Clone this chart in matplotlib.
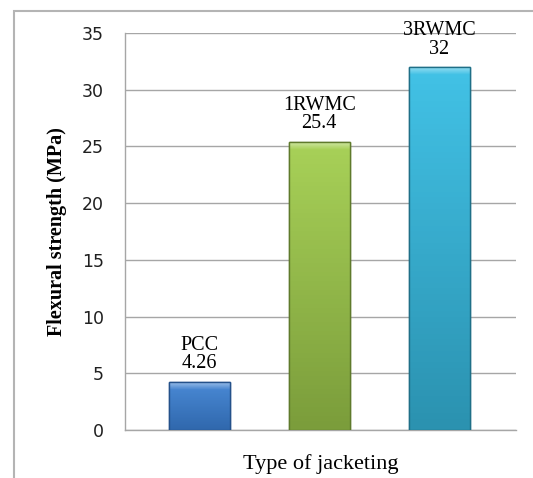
import numpy as np
import matplotlib.pyplot as plt
from matplotlib.colors import LinearSegmentedColormap
from matplotlib.patches import Rectangle

categories = ['PCC', '1RWMC', '3RWMC']
values = [4.26, 25.4, 32]
value_labels = ['4.26', '25.4', '32']
colors_top = ['#4a8ad6', '#a8d158', '#42c2e6']
colors_bottom = ['#3068ad', '#7b9d3b', '#2b92b0']
colors_edge = ['#24518a', '#5f7a2c', '#1f6f87']

fig = plt.figure(figsize=(5.33, 4.78), dpi=100)
fig.patches.append(Rectangle((14 / 533, -0.1), 1.2, 1 - 11 / 478 + 0.1,
                             transform=fig.transFigure, fill=False,
                             edgecolor='#b4b4b4', linewidth=1.5))
ax = fig.add_axes([125 / 533, 48 / 478, 391 / 533, 397 / 478])

x = np.arange(len(categories))
bars = ax.bar(x, values, width=0.51, zorder=3)
for b, ct, cb, ce in zip(bars, colors_top, colors_bottom, colors_edge):
    b.set_facecolor(ct)
    b.set_edgecolor(ce)
    b.set_linewidth(1.0)
    # vertical shading, lighter at the top like the excel bars
    cmap = LinearSegmentedColormap.from_list('g', [cb, ct])
    grad = np.linspace(0, 1, 64).reshape(-1, 1)
    im = ax.imshow(grad, cmap=cmap, aspect='auto', zorder=3.5, origin='lower',
                   extent=[b.get_x(), b.get_x() + b.get_width(), 0, b.get_height()])
    im.set_clip_path(b)
    bev = ax.imshow(np.linspace(0, 1, 16).reshape(-1, 1),
                    cmap=LinearSegmentedColormap.from_list('t', ['#ffffff00', '#ffffff70']),
                    aspect='auto', zorder=3.6, origin='lower',
                    extent=[b.get_x(), b.get_x() + b.get_width(),
                            b.get_height() - 0.7, b.get_height()])
    bev.set_clip_path(b)
    ax.bar(b.get_x() + b.get_width() / 2, b.get_height(), width=b.get_width(),
           fill=False, edgecolor=ce, linewidth=1.0, zorder=3.7)

for xi, v, c, lab in zip(x, values, categories, value_labels):
    ax.text(xi, v + 0.75, c + '\n' + lab, ha='center', va='bottom',
            fontsize=14.5, family='Liberation Serif', linespacing=0.95, zorder=5)

ax.set_xlim(-0.62, 2.64)
ax.set_ylim(0, 35)
ax.set_yticks(range(0, 36, 5))
ax.set_xticks([])
ax.grid(axis='y', color='#a6a6a6', linewidth=1.0, zorder=0)
ax.set_axisbelow(True)
for s in ['top', 'right']:
    ax.spines[s].set_visible(False)
for s in ['left', 'bottom']:
    ax.spines[s].set_color('#a6a6a6')
    ax.spines[s].set_linewidth(1.0)
ax.tick_params(axis='y', length=0, pad=15, labelsize=12.5, labelcolor='#202020')

ax.set_ylabel('Flexural strength (MPa)', family='Liberation Serif',
              fontweight='bold', fontsize=14.5, labelpad=11)
ax.set_xlabel('Type of jacketing', family='Liberation Serif',
              fontsize=16, labelpad=17)

fig.savefig('out.png', dpi=100)
